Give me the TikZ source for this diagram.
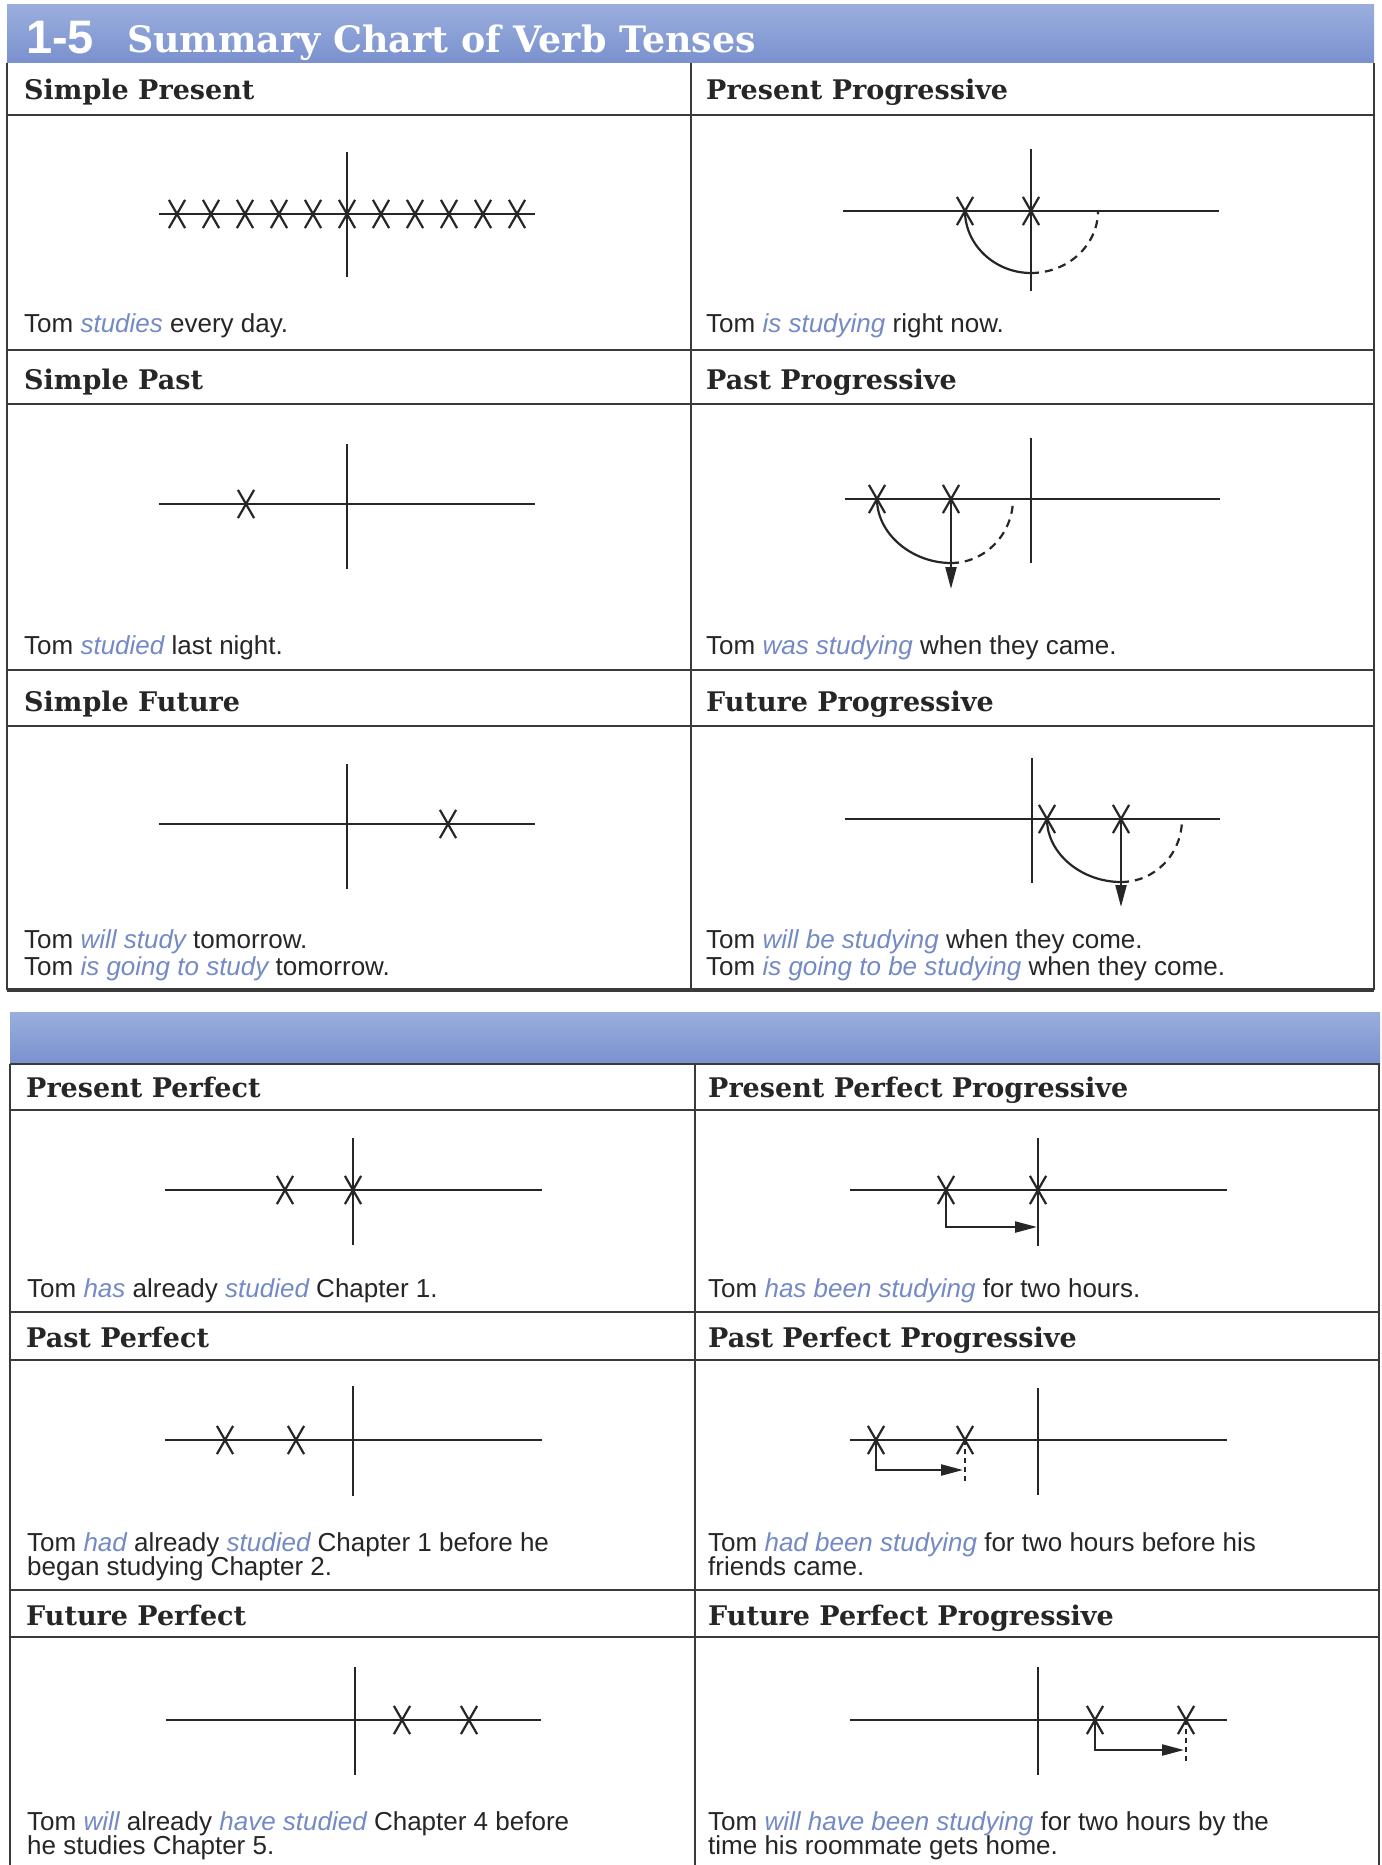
\documentclass[tikz,border=0pt]{standalone}
\usepackage{fontspec}
\setmainfont{Liberation Sans}
\newfontfamily\headserif{DejaVu Serif}
\usetikzlibrary{shapes.misc,arrows.meta}
\definecolor{ink}{HTML}{262626}
\definecolor{rulegray}{HTML}{3A3A3A}
\definecolor{verbblue}{HTML}{748AC6}
\definecolor{barblue}{HTML}{7A91CE}
\definecolor{bartop}{HTML}{9AAEDD}
\newcommand{\vb}[1]{\textcolor{verbblue}{\itshape #1}}
\tikzset{
  rulebox/.style={draw=rulegray,line width=1.9pt},
  heading/.style={anchor=base west,inner sep=0,text=ink,font=\headserif\bfseries\fontsize{27}{30}\selectfont},
  sentence/.style={anchor=base west,inner sep=0,text=ink,font=\fontsize{26}{28}\selectfont},
  timeax/.style={draw=ink,line width=2.3pt},
  tense/.style={cross out,draw=ink,line width=2.2pt,minimum width=14pt,minimum height=26pt,inner sep=0},
  reach/.style={draw=ink,line width=2.2pt},
  later/.style={reach,dash pattern=on 8pt off 6pt},
  arrowed/.style={-{Triangle[length=22pt,width=11pt]}}
}
\begin{document}
\begin{tikzpicture}[x=1pt,y=-1pt]
\useasboundingbox (0,0) rectangle (1381,1865);
\fill[white] (0,0) rectangle (1381,1865);

% ---- upper chart
\fill[top color=bartop,bottom color=barblue] (7,5) rectangle (1374,63);
\node[anchor=base west,inner sep=0,text=white,font=\bfseries\fontsize{47}{48}\selectfont] (num) at (26,54) {1-5};
\node[anchor=base west,inner sep=0,text=white,font=\headserif\bfseries\fontsize{36.4}{40}\selectfont] (title) at (127,53) {Summary Chart of Verb Tenses};
\draw[rulebox] (7,63) -- (7,990) (1374,63) -- (1374,990) (691,63) -- (691,990);
\foreach \y in {115,350,404,670,726} \draw[rulebox] (7,\y) -- (1374,\y);
\draw[draw=rulegray,line width=4.5pt] (7,990) -- (1374,990);

\node[heading] (hsimpres) at (24,100) {Simple Present};
\node[heading] (hpresprog) at (706,100) {Present Progressive};
\node[heading] (hsimpast) at (24,389) {Simple Past};
\node[heading] (hpastprog) at (706,389) {Past Progressive};
\node[heading] (hsimfut) at (24,711) {Simple Future};
\node[heading] (hfutprog) at (706,711) {Future Progressive};

\node[sentence] (ssimpres) at (24,332) {Tom \vb{studies} every day.};
\node[sentence] (spresprog) at (706,332) {Tom \vb{is studying} right now.};
\node[sentence] (ssimpast) at (24,654) {Tom \vb{studied} last night.};
\node[sentence] (spastprog) at (706,654) {Tom \vb{was studying} when they came.};
\node[sentence] (ssimfuta) at (24,948) {Tom \vb{will study} tomorrow.};
\node[sentence] (ssimfutb) at (24,975) {Tom \vb{is going to study} tomorrow.};
\node[sentence] (sfutproga) at (706,948) {Tom \vb{will be studying} when they come.};
\node[sentence] (sfutprogb) at (706,975) {Tom \vb{is going to be studying} when they come.};

% simple present
\draw[timeax] (159,214) -- (535,214) (347,152) -- (347,277);
\foreach \k in {-5,...,5} \node[tense] (spr\k) at ({347+34*\k},214) {};
% simple past
\draw[timeax] (159,504) -- (535,504) (347,444) -- (347,569);
\node[tense] (spa1) at (246,504) {};
% simple future
\draw[timeax] (159,824) -- (535,824) (347,764) -- (347,889);
\node[tense] (sfu1) at (448,824) {};

% present progressive
\draw[timeax] (843,211) -- (1219,211) (1031,149) -- (1031,291);
\node[tense] (pp1) at (965,211) {};
\node[tense] (pp2) at (1031,211) {};
\coordinate (ppb) at (1031,273);
\coordinate (ppe) at (1098,211);
\draw[reach] (pp1.center) .. controls (965,245) and (995,273) .. (ppb);
\draw[later] (ppb) .. controls (1068,273) and (1098,245) .. (ppe);
% past progressive
\draw[timeax] (845,499) -- (1220,499) (1031,438) -- (1031,563);
\node[tense] (pa1) at (877,499) {};
\node[tense] (pa2) at (951,499) {};
\coordinate (pab) at (951,563);
\coordinate (pae) at (1013,499);
\coordinate (pad) at (951,589);
\draw[reach] (pa1.center) .. controls (877,534) and (912,563) .. (pab);
\draw[later] (pab) .. controls (985,563) and (1013,534) .. (pae);
\draw[reach,arrowed] (pa2.center) -- (pad);
% future progressive
\draw[timeax] (845,819) -- (1220,819) (1032,758) -- (1032,883);
\node[tense] (fp1) at (1047,819) {};
\node[tense] (fp2) at (1121,819) {};
\coordinate (fpb) at (1121,882);
\coordinate (fpe) at (1182,819);
\coordinate (fpd) at (1121,907);
\draw[reach] (fp1.center) .. controls (1047,854) and (1082,882) .. (fpb);
\draw[later] (fpb) .. controls (1155,882) and (1182,854) .. (fpe);
\draw[reach,arrowed] (fp2.center) -- (fpd);

% ---- lower chart
\fill[top color=bartop,bottom color=barblue] (10,1012) rectangle (1380,1064);
\draw[rulebox] (10,1064) -- (10,1865) (1379,1064) -- (1379,1865) (695,1064) -- (695,1865);
\foreach \y in {1064,1110,1312,1360,1590,1637} \draw[rulebox] (10,\y) -- (1380,\y);

\node[heading] (hpresperf) at (26,1097) {Present Perfect};
\node[heading] (hpppr) at (708,1097) {Present Perfect Progressive};
\node[heading] (hpastperf) at (26,1347) {Past Perfect};
\node[heading] (hpapr) at (708,1347) {Past Perfect Progressive};
\node[heading] (hfutperf) at (26,1625) {Future Perfect};
\node[heading] (hfupr) at (708,1625) {Future Perfect Progressive};

\node[sentence] (spresperf) at (27,1297) {Tom \vb{has} already \vb{studied} Chapter 1.};
\node[sentence] (spppr) at (708,1297) {Tom \vb{has been studying} for two hours.};
\node[sentence] (spastperfa) at (27,1551) {Tom \vb{had} already \vb{studied} Chapter 1 before he};
\node[sentence] (spastperfb) at (27,1575) {began studying Chapter 2.};
\node[sentence] (spapra) at (708,1551) {Tom \vb{had been studying} for two hours before his};
\node[sentence] (spaprb) at (708,1575) {friends came.};
\node[sentence] (sfutperfa) at (27,1830) {Tom \vb{will} already \vb{have studied} Chapter 4 before};
\node[sentence] (sfutperfb) at (27,1854) {he studies Chapter 5.};
\node[sentence] (sfupra) at (708,1830) {Tom \vb{will have been studying} for two hours by the};
\node[sentence] (sfuprb) at (708,1854) {time his roommate gets home.};

% present perfect
\draw[timeax] (165,1190) -- (542,1190) (353,1138) -- (353,1245);
\node[tense] (pf1) at (285,1190) {};
\node[tense] (pf2) at (353,1190) {};
% past perfect
\draw[timeax] (165,1440) -- (542,1440) (353,1386) -- (353,1496);
\node[tense] (paf1) at (225,1440) {};
\node[tense] (paf2) at (296,1440) {};
% future perfect
\draw[timeax] (166,1720) -- (541,1720) (355,1667) -- (355,1775);
\node[tense] (fuf1) at (402,1720) {};
\node[tense] (fuf2) at (469,1720) {};

% present perfect progressive
\draw[timeax] (850,1190) -- (1227,1190) (1038,1138) -- (1038,1246);
\node[tense] (ppp1) at (946,1190) {};
\node[tense] (ppp2) at (1038,1190) {};
\coordinate (pppe) at (1037,1227);
\draw[reach,arrowed] (ppp1.center) |- (pppe);
% past perfect progressive
\draw[timeax] (850,1440) -- (1227,1440) (1038,1388) -- (1038,1495);
\node[tense] (pap1) at (876,1440) {};
\node[tense] (pap2) at (965,1440) {};
\coordinate (pape) at (963,1470);
\coordinate (papd) at (965,1481);
\draw[reach,arrowed] (pap1.center) |- (pape);
\draw[later,dash pattern=on 5pt off 4pt] (pap2.center) -- (papd);
% future perfect progressive
\draw[timeax] (850,1720) -- (1227,1720) (1038,1667) -- (1038,1775);
\node[tense] (fup1) at (1095,1720) {};
\node[tense] (fup2) at (1186,1720) {};
\coordinate (fupe) at (1184,1750);
\coordinate (fupd) at (1186,1763);
\draw[reach,arrowed] (fup1.center) |- (fupe);
\draw[later,dash pattern=on 5pt off 4pt] (fup2.center) -- (fupd);
\end{tikzpicture}
\end{document}
